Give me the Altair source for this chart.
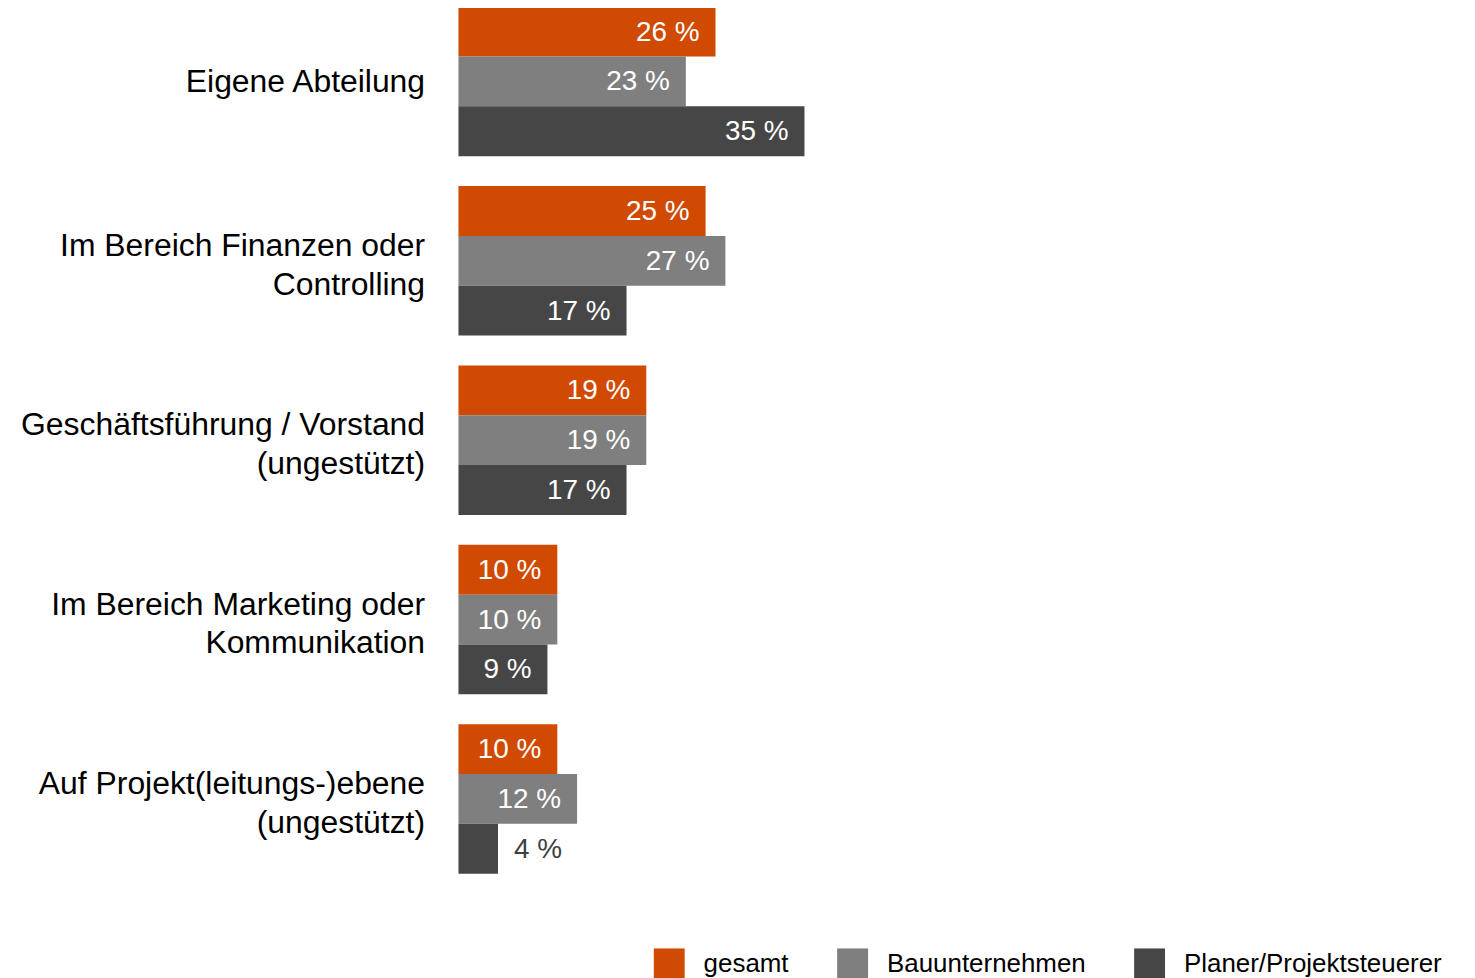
import altair as alt
import pandas as pd

categories = [
    "Eigene Abteilung",
    "Im Bereich Finanzen oder|Controlling",
    "Geschäftsführung / Vorstand|(ungestützt)",
    "Im Bereich Marketing oder|Kommunikation",
    "Auf Projekt(leitungs-)ebene|(ungestützt)",
]
series = ["gesamt", "Bauunternehmen", "Planer/Projektsteuerer"]
gesamt = [26, 25, 19, 10, 10]
bauunternehmen = [23, 27, 19, 10, 12]
planer = [35, 17, 17, 9, 4]
colors = ["#D04A02", "#7F7F7F", "#464646"]

rows = []
for i, c in enumerate(categories):
    for s, vals in zip(series, [gesamt, bauunternehmen, planer]):
        rows.append({"cat": c, "series": s, "value": vals[i]})
df = pd.DataFrame(rows)

FONT = "Liberation Sans"

y_enc = alt.Y(
    "cat:N",
    sort=categories,
    scale=alt.Scale(
        domain=categories, range=[-3, 867], paddingInner=30 / 180, paddingOuter=0, round=False
    ),
    axis=alt.Axis(
        title=None,
        ticks=False,
        domain=False,
        labelFont=FONT,
        labelFontSize=32,
        labelColor="#000000",
        labelPadding=34,
        labelLimit=600,
        labelLineHeight=39,
        labelAlign="right",
        labelBaseline="middle",
        labelOffset={"condition": {"test": "indexof(datum.value, '|') >= 0", "value": -15}, "value": 1},
        labelExpr="split(datum.label, '|')",
        grid=False,
    ),
)
yoff = alt.YOffset(
    "series:N",
    sort=series,
    scale=alt.Scale(domain=series, paddingInner=0, paddingOuter=0, round=False),
)
x_enc = alt.X("value:Q", scale=alt.Scale(domain=[0, 100]), axis=None)

base = alt.Chart(df).encode(y=y_enc, yOffset=yoff, x=x_enc)

bars = base.mark_bar().encode(
    color=alt.Color(
        "series:N",
        sort=series,
        scale=alt.Scale(domain=series, range=colors),
        legend=alt.Legend(
            title=None,
            orient="none",
            direction="horizontal",
            legendX=196,
            legendY=942,
            symbolType="square",
            symbolSize=961,
            symbolStrokeWidth=0,
            symbolOpacity=1,
            labelFont=FONT,
            labelFontSize=26,
            labelColor="#000000",
            labelOffset=19,
            labelLimit=600,
            columnPadding=48,
            padding=0,
        ),
    )
)

labels_in = (
    base.transform_filter("datum.value >= 6")
    .transform_calculate(lab="datum.value + ' %'")
    .mark_text(align="right", baseline="middle", dx=-16, dy=1, font=FONT, fontSize=28, color="#FFFFFF")
    .encode(text="lab:N")
)
labels_out = (
    base.transform_filter("datum.value < 6")
    .transform_calculate(lab="datum.value + ' %'")
    .mark_text(align="left", baseline="middle", dx=16, dy=1, font=FONT, fontSize=28, color="#404040")
    .encode(text="lab:N")
)

chart = (
    alt.layer(bars, labels_in, labels_out)
    .properties(
        width=992,
        height=970,
        autosize=alt.AutoSizeParams(type="none"),
        padding={"left": 452, "top": 0, "right": 20, "bottom": 0},
        view=alt.ViewBackground(stroke=None, strokeWidth=0),
    )
    .configure_view(stroke=None, strokeWidth=0)
    .configure_axis(grid=False)
    .configure(background="white")
)

chart.save("out.html", embed_options={"renderer": "svg", "actions": False})
